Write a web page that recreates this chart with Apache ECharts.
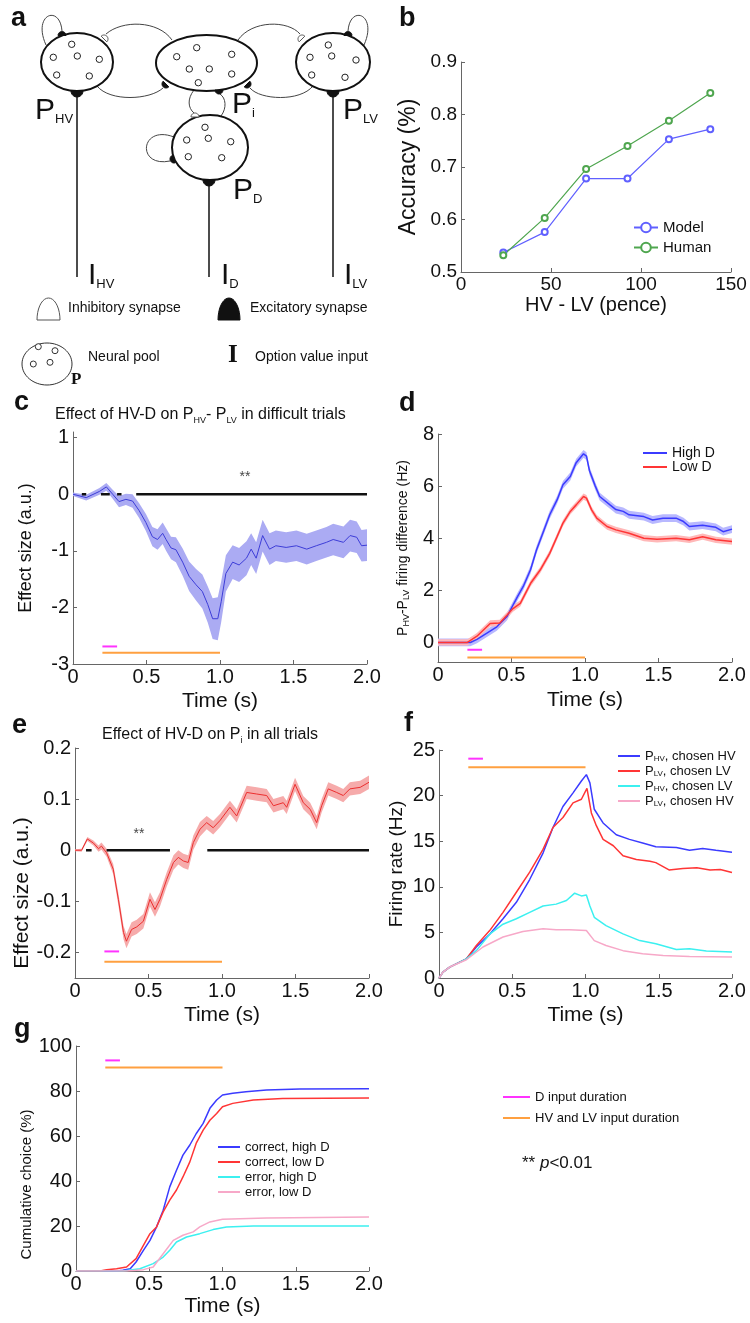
<!DOCTYPE html>
<html>
<head>
<meta charset="utf-8">
<script src="https://cdn.jsdelivr.net/npm/echarts@6.0.0/dist/echarts.min.js"></script>
<style>
html, body { margin: 0; padding: 0; background: #fff; }
#main { width: 750px; height: 1323px; }
</style>
</head>
<body>
<div id="main"></div>
<script>
var FONT = 'Liberation Sans, Arial, Helvetica, sans-serif';
var SERIF = 'Liberation Serif, DejaVu Serif, serif';

// b: accuracy against value difference
var bDiff = [23.5, 46.5, 69.5, 92.5, 115.5, 138.5];
var bModel = [0.537, 0.576, 0.678, 0.678, 0.753, 0.772];
var bHuman = [0.532, 0.603, 0.696, 0.740, 0.788, 0.841];

// input windows (s)
var dInput = [0.2, 0.3];
var hvlvInput = [0.2, 1.0];

// c: effect of HV-D on PHV-PLV, difficult trials
var cTime = [0, 0.09, 0.18, 0.227, 0.27, 0.313, 0.36, 0.405, 0.45, 0.496, 0.54, 0.575, 0.61, 0.633, 0.667, 0.7, 0.746, 0.79, 0.837, 0.88,
  0.917, 0.95, 0.985, 1.008, 1.04, 1.086, 1.13, 1.18, 1.212, 1.246, 1.29, 1.337, 1.38, 1.45, 1.52, 1.59, 1.655, 1.724, 1.77, 1.84,
  1.885, 1.93, 1.963, 2.0];
var cEffect = [0, -0.06, 0.05, 0.13, 0, -0.13, -0.09, -0.12, -0.29, -0.5, -0.75, -0.8, -0.69, -0.8, -0.95, -0.98, -1.2, -1.45, -1.6, -1.72,
  -1.95, -2.2, -2.2, -1.9, -1.4, -1.2, -1.25, -1.13, -0.97, -1.13, -0.73, -0.97, -0.91, -0.94, -0.91, -0.97, -0.91, -0.85, -0.8, -0.85,
  -0.73, -0.76, -0.91, -0.9];
var cSem = [0.03, 0.05, 0.06, 0.07, 0.08, 0.1, 0.1, 0.12, 0.13, 0.15, 0.17, 0.18, 0.19, 0.2, 0.2, 0.22, 0.24, 0.26, 0.28, 0.3,
  0.32, 0.36, 0.38, 0.36, 0.32, 0.3, 0.3, 0.3, 0.28, 0.28, 0.28, 0.28, 0.27, 0.27, 0.27, 0.27, 0.27, 0.27, 0.28, 0.28,
  0.28, 0.28, 0.28, 0.28];
var cSig = [[0.06, 0.09], [0.19, 0.25], [0.30, 0.33], [0.43, 2.0]];
var cStar = [1.17, 0.3];
var cInputY = [-2.69, -2.8];
var cTicks = [-3, -2, -1, 0, 1];

// d: PHV-PLV firing difference
var dHighTime = [0, 0.13, 0.22, 0.265, 0.33, 0.4, 0.47, 0.54, 0.58, 0.63, 0.67, 0.72, 0.76, 0.81, 0.85, 0.9, 0.94, 0.99, 1.01, 1.03,
  1.07, 1.1, 1.17, 1.21, 1.26, 1.3, 1.4, 1.46, 1.53, 1.62, 1.67, 1.71, 1.8, 1.89, 1.94, 2.0];
var dHigh = [0, 0, 0, 0.12, 0.35, 0.6, 1.0, 1.75, 2.15, 2.8, 3.55, 4.3, 4.9, 5.47, 6.05, 6.37, 6.9, 7.24, 7.15, 6.6,
  6.0, 5.6, 5.28, 5.1, 5.03, 4.9, 4.83, 4.7, 4.77, 4.77, 4.64, 4.45, 4.5, 4.42, 4.25, 4.35];
var dLowTime = [0, 0.2, 0.265, 0.355, 0.42, 0.47, 0.51, 0.56, 0.63, 0.695, 0.76, 0.81, 0.85, 0.9, 0.94, 0.99, 1.01, 1.045, 1.08, 1.15,
  1.21, 1.3, 1.4, 1.49, 1.62, 1.71, 1.8, 1.89, 2.0];
var dLow = [0, 0, 0.24, 0.73, 0.75, 1.05, 1.3, 1.5, 2.27, 2.78, 3.42, 4.06, 4.58, 5.03, 5.28, 5.6, 5.54, 5.09, 4.77, 4.45,
  4.32, 4.19, 4.0, 3.96, 4.0, 3.94, 4.06, 3.94, 3.87];
var dHighSem = 0.15;
var dLowSem = 0.12;
var dInputY = [-0.28, -0.58];
var dTicks = [0, 2, 4, 6, 8];

// e: effect of HV-D on Pi, all trials
var eTime = [0, 0.045, 0.084, 0.125, 0.16, 0.18, 0.215, 0.26, 0.295, 0.33, 0.35, 0.385, 0.42, 0.465, 0.51, 0.544, 0.578, 0.624, 0.67, 0.703,
  0.737, 0.77, 0.805, 0.85, 0.896, 0.94, 0.986, 1.054, 1.1, 1.168, 1.236, 1.304, 1.35, 1.417, 1.44, 1.497, 1.553, 1.6, 1.644, 1.678,
  1.723, 1.78, 1.825, 1.87, 1.94, 2.0];
var eEffect = [0, 0, 0.022, 0.014, 0.003, 0.008, -0.005, -0.037, -0.096, -0.161, -0.178, -0.155, -0.15, -0.139, -0.096, -0.116, -0.096, -0.057, -0.024, -0.014,
  -0.021, -0.024, 0.015, 0.041, 0.054, 0.044, 0.058, 0.084, 0.067, 0.113, 0.11, 0.107, 0.087, 0.093, 0.084, 0.129, 0.093, 0.08, 0.054, 0.087,
  0.12, 0.113, 0.107, 0.12, 0.123, 0.133];
var eSem = [0.002, 0.003, 0.004, 0.005, 0.006, 0.007, 0.008, 0.01, 0.012, 0.013, 0.014, 0.014, 0.014, 0.014, 0.014, 0.014, 0.014, 0.014, 0.014, 0.014,
  0.014, 0.014, 0.014, 0.014, 0.013, 0.013, 0.013, 0.013, 0.013, 0.013, 0.013, 0.013, 0.013, 0.013, 0.013, 0.013, 0.013, 0.013, 0.013, 0.013,
  0.013, 0.013, 0.013, 0.013, 0.013, 0.013];
var eSig = [[0.075, 0.113], [0.215, 0.646], [0.9, 2.0]];
var eStar = [0.435, 0.031];
var eInputY = [-0.198, -0.218];
var eTicks = [-0.2, -0.1, 0, 0.1, 0.2];

// f: firing rates
var fHvHvTime = [0, 0.027, 0.073, 0.187, 0.255, 0.346, 0.437, 0.528, 0.619, 0.71, 0.778, 0.846, 0.915, 0.972, 1.006, 1.03, 1.06, 1.12, 1.21, 1.3,
  1.39, 1.48, 1.62, 1.71, 1.8, 1.89, 2.0];
var fHvHv = [0, 0.65, 1.2, 2.1, 3.4, 4.8, 6.5, 8.3, 10.8, 13.7, 16.5, 18.8, 20.3, 21.6, 22.3, 21.4, 18.5, 17.0, 15.7, 15.2,
  14.8, 14.4, 14.3, 14.0, 14.2, 14.0, 13.8];
var fLvLvTime = [0, 0.027, 0.073, 0.187, 0.255, 0.346, 0.437, 0.528, 0.619, 0.71, 0.778, 0.846, 0.915, 0.972, 1.01, 1.04, 1.074, 1.12, 1.19, 1.256,
  1.347, 1.44, 1.48, 1.57, 1.665, 1.76, 1.85, 1.92, 2.0];
var fLvLv = [0, 0.65, 1.2, 2.1, 3.56, 5.2, 7.2, 9.4, 11.6, 14.1, 16.5, 17.6, 19.2, 19.6, 20.8, 18.1, 16.7, 15.2, 14.5, 13.4,
  13.0, 12.8, 12.65, 11.85, 12.0, 12.1, 11.85, 11.9, 11.56];
var fHvLvTime = [0, 0.027, 0.073, 0.187, 0.255, 0.346, 0.437, 0.528, 0.619, 0.71, 0.8, 0.87, 0.926, 0.972, 1.006, 1.03, 1.06, 1.14, 1.256, 1.37,
  1.48, 1.62, 1.71, 1.825, 2.0];
var fHvLv = [0, 0.65, 1.2, 2.1, 3.0, 4.8, 5.9, 6.5, 7.2, 7.9, 8.1, 8.5, 9.3, 9.0, 9.1, 7.9, 6.65, 5.75, 4.84, 4.1,
  3.75, 3.13, 3.2, 2.95, 2.84];
var fLvHvTime = [0, 0.027, 0.073, 0.187, 0.3, 0.437, 0.573, 0.71, 0.8, 0.89, 1.006, 1.06, 1.14, 1.256, 1.39, 1.53, 1.71, 2.0];
var fLvHv = [0, 0.65, 1.2, 2.0, 3.4, 4.5, 5.1, 5.4, 5.3, 5.3, 5.2, 4.1, 3.56, 3.0, 2.65, 2.47, 2.36, 2.3];
var fInputY = [24.05, 23.1];

// g: cumulative choice
var gCorHighTime = [0, 0.277, 0.32, 0.37, 0.41, 0.46, 0.505, 0.55, 0.595, 0.64, 0.686, 0.73, 0.777, 0.82, 0.868, 0.914, 0.96, 1.0, 1.07, 1.16, 1.3, 1.527, 2.0];
var gCorHigh = [0, 0, 0.3, 1, 4, 9.2, 13.6, 19.6, 27, 37.4, 44.8, 51.5, 56, 61, 65.6, 72.3, 76, 78.2, 79, 79.7, 80.4, 80.9, 81];
var gCorLowTime = [0, 0.164, 0.21, 0.277, 0.345, 0.41, 0.46, 0.505, 0.55, 0.595, 0.64, 0.686, 0.73, 0.777, 0.82, 0.868, 0.914, 0.96, 1.0, 1.07, 1.21, 1.41, 2.0];
var gCorLow = [0, 0, 0.6, 1, 1.8, 5.5, 11.4, 16.6, 19.6, 26.3, 31.5, 36, 41.8, 48.5, 56.7, 62.6, 67, 70, 73, 74.5, 76, 76.7, 76.9];
var gErrHighTime = [0, 0.32, 0.436, 0.527, 0.595, 0.64, 0.686, 0.755, 0.845, 0.936, 1.027, 1.21, 2.0];
var gErrHigh = [0, 0, 1, 3.3, 6.2, 9.2, 12.9, 15.1, 16.6, 18.4, 19.6, 20, 20];
var gErrLowTime = [0, 0.345, 0.46, 0.527, 0.595, 0.664, 0.73, 0.8, 0.845, 0.914, 1.0, 1.3, 2.0];
var gErrLow = [0, 0, 0.6, 1.8, 7.7, 13.6, 15.9, 17.4, 19.6, 21.8, 23, 23.6, 24];
var gInputY = [93.6, 90.5];

var BLUE = '#3b3bff', RED = '#ff3535', CYAN = '#3cf0f0', PINK = '#f7a8c8';
var MAGENTA = '#ff33ff', ORANGE = '#ffa040';
var AX = '#666', INK = '#111';

function pairs(xs, ys) {
  return xs.map(function (x, i) { return [x, ys[i]]; });
}

function line(name, xs, ys, gi, color, width, extra) {
  return Object.assign({
    name: name, type: 'line', xAxisIndex: gi, yAxisIndex: gi,
    data: pairs(xs, ys), symbol: 'none', silent: true,
    lineStyle: { color: color, width: width }, itemStyle: { color: color }, z: 3
  }, extra || {});
}

// shaded error band: one polygon through the upper edge and back along the lower edge
function band(xs, mid, sem, gi, color) {
  var data = xs.map(function (x, i) {
    var s = Array.isArray(sem) ? sem[i] : sem;
    return [x, mid[i] - s, mid[i] + s];
  });
  return {
    type: 'custom', xAxisIndex: gi, yAxisIndex: gi, data: data, silent: true, z: 1,
    encode: { x: 0, y: [1, 2] },
    renderItem: function (params, api) {
      if (params.dataIndex !== 0) return null;
      var top = [], bottom = [];
      for (var i = 0; i < data.length; i++) {
        top.push(api.coord([api.value(0, i), api.value(2, i)]));
        bottom.unshift(api.coord([api.value(0, i), api.value(1, i)]));
      }
      return { type: 'polygon', shape: { points: top.concat(bottom) }, style: { fill: color } };
    }
  };
}

var series = [];

function inputs(gi, ys) {
  series.push(line('D input duration', dInput, [ys[0], ys[0]], gi, MAGENTA, 2));
  series.push(line('HV and LV input duration', hvlvInput, [ys[1], ys[1]], gi, ORANGE, 2));
}

function sig(gi, ranges) {
  ranges.forEach(function (r) {
    series.push(line('sig', r, [0, 0], gi, INK, 2.5, { z: 4 }));
  });
}

function star(gi, p) {
  series.push({
    type: 'scatter', xAxisIndex: gi, yAxisIndex: gi, data: [p], symbolSize: 0, silent: true,
    label: { show: true, position: 'inside', formatter: '**', fontSize: 14, color: INK, fontFamily: FONT }
  });
}

// b
series.push(line('Model', bDiff, bModel, 0, '#6060ff', 1.2, { symbol: 'emptyCircle', symbolSize: 6 }));
series.push(line('Human', bDiff, bHuman, 0, '#4fa64f', 1.2, { symbol: 'emptyCircle', symbolSize: 6 }));

// c
series.push(band(cTime, cEffect, cSem, 1, '#ababf3'));
series.push(line('c effect', cTime, cEffect, 1, '#3d3dd8', 1));
sig(1, cSig);
star(1, cStar);
inputs(1, cInputY);

// d
series.push(band(dHighTime, dHigh, dHighSem, 2, '#b8b8ff'));
series.push(band(dLowTime, dLow, dLowSem, 2, '#ffb8b8'));
series.push(line('High D', dHighTime, dHigh, 2, BLUE, 1.5));
series.push(line('Low D', dLowTime, dLow, 2, RED, 1.5));
inputs(2, dInputY);

// e
series.push(band(eTime, eEffect, eSem, 3, '#f6abab'));
series.push(line('e effect', eTime, eEffect, 3, '#ec2f2f', 1));
sig(3, eSig);
star(3, eStar);
inputs(3, eInputY);

// f
series.push(line('P_HV, chosen HV', fHvHvTime, fHvHv, 4, BLUE, 1.5));
series.push(line('P_LV, chosen LV', fLvLvTime, fLvLv, 4, RED, 1.5));
series.push(line('P_HV, chosen LV', fHvLvTime, fHvLv, 4, CYAN, 1.5));
series.push(line('P_LV, chosen HV', fLvHvTime, fLvHv, 4, PINK, 1.5));
inputs(4, fInputY);

// g
series.push(line('correct, high D', gCorHighTime, gCorHigh, 5, BLUE, 1.5));
series.push(line('correct, low D', gCorLowTime, gCorLow, 5, RED, 1.5));
series.push(line('error, high D', gErrHighTime, gErrHigh, 5, CYAN, 1.5));
series.push(line('error, low D', gErrLowTime, gErrLow, 5, PINK, 1.5));
inputs(5, gInputY);

var grids = [
  { left: 461, top: 62, width: 270, height: 210 },   // b
  { left: 73, top: 432, width: 294, height: 232 },   // c
  { left: 438, top: 434, width: 294, height: 228 },  // d
  { left: 75, top: 748, width: 294, height: 230 },   // e
  { left: 439, top: 750, width: 293, height: 228 },  // f
  { left: 76, top: 1046, width: 293, height: 225 }   // g
].map(function (g) { return Object.assign({ outerBoundsMode: 'none', containLabel: false }, g); });

function baseAxis(gi, extra) {
  return Object.assign({
    type: 'value', gridIndex: gi, nameLocation: 'middle',
    axisLine: { show: true, onZero: false, lineStyle: { color: AX, width: 1 } },
    axisTick: { show: true, inside: true, length: 4, lineStyle: { color: AX } },
    axisLabel: { fontSize: 20, color: INK, fontFamily: FONT, margin: 4 },
    splitLine: { show: false },
    nameTextStyle: { fontSize: 21, color: INK, fontFamily: FONT }
  }, extra);
}

function timeAxis(gi, gap) {
  return baseAxis(gi, {
    min: 0, max: 2, interval: 0.5, name: 'Time (s)', nameGap: gap,
    axisLabel: { fontSize: 20, color: INK, fontFamily: FONT, margin: 3,
      formatter: function (v) { return v === 0 ? '0' : v.toFixed(1); } }
  });
}

function customY(gi, min, max, ticks, fmt, extra) {
  return baseAxis(gi, Object.assign({
    min: min, max: max,
    axisTick: { show: true, inside: true, length: 4, lineStyle: { color: AX }, customValues: ticks },
    axisLabel: { fontSize: 20, color: INK, fontFamily: FONT, margin: 4, customValues: ticks, formatter: fmt }
  }, extra));
}

var subRich = {
  m: { fontSize: 14, lineHeight: 16, fontFamily: FONT, color: INK },
  s: { fontSize: 9, lineHeight: 8, verticalAlign: 'bottom', fontFamily: FONT, color: INK }
};

var xAxes = [
  baseAxis(0, { min: 0, max: 150, interval: 50, name: 'HV - LV (pence)', nameGap: 23,
    nameTextStyle: { fontSize: 20, color: INK, fontFamily: FONT },
    axisLabel: { fontSize: 19, color: INK, fontFamily: FONT, margin: 3 } }),
  timeAxis(1, 27), timeAxis(2, 28), timeAxis(3, 27), timeAxis(4, 27), timeAxis(5, 25)
];

var yAxes = [
  baseAxis(0, { min: 0.5, max: 0.9, interval: 0.1, name: 'Accuracy (%)', nameGap: 41,
    nameTextStyle: { fontSize: 23, color: INK, fontFamily: FONT },
    axisLabel: { fontSize: 19, color: INK, fontFamily: FONT, margin: 4,
      formatter: function (v) { return v.toFixed(1); } } }),
  customY(1, -3, 1.1, cTicks, function (v) { return String(v); },
    { name: 'Effect size (a.u.)', nameGap: 38, nameTextStyle: { fontSize: 18, color: INK, fontFamily: FONT } }),
  customY(2, -0.75, 8, dTicks, function (v) { return String(v); },
    { name: '{m|P}{s|HV}{m|-P}{s|LV}{m| firing difference (Hz)}', nameGap: 27,
      nameTextStyle: { fontSize: 14, color: INK, fontFamily: FONT, rich: subRich } }),
  customY(3, -0.25, 0.2, eTicks, function (v) { return v === 0 ? '0' : v.toFixed(1); },
    { name: 'Effect size (a.u.)', nameGap: 40,
      nameTextStyle: { fontSize: 21, color: INK, fontFamily: FONT, padding: [0, 60, 0, 0] } }),
  baseAxis(4, { min: 0, max: 25, interval: 5, name: 'Firing rate (Hz)', nameGap: 33,
    nameTextStyle: { fontSize: 19, color: INK, fontFamily: FONT } }),
  baseAxis(5, { min: 0, max: 100, interval: 20, name: 'Cumulative choice (%)', nameGap: 38,
    nameTextStyle: { fontSize: 15, color: INK, fontFamily: FONT, padding: [0, 52, 0, 0] } })
];

function legend(names, left, top, itemWidth, gap, size, extra) {
  return Object.assign({
    data: names, left: left, top: top, orient: 'vertical', padding: 0,
    icon: 'rect', itemWidth: itemWidth, itemHeight: 2, itemGap: gap, selectedMode: false,
    textStyle: { fontSize: size, lineHeight: 14, color: INK, fontFamily: FONT }
  }, extra || {});
}

var legendRich = {
  m: { fontSize: 13, lineHeight: 14, fontFamily: FONT, color: INK },
  s: { fontSize: 8, lineHeight: 7, verticalAlign: 'bottom', fontFamily: FONT, color: INK }
};

var legends = [
  legend(['Model', 'Human'], 633, 220, 24, 5, 15, { icon: null, itemHeight: 12 }),
  legend(['High D', 'Low D'], 643, 446, 24, 0, 14),
  legend(['P_HV, chosen HV', 'P_LV, chosen LV', 'P_HV, chosen LV', 'P_LV, chosen HV'], 618, 749, 22, 1, 13, {
    formatter: function (n) { return n.replace(/^P_(\w+),(.*)$/, '{m|P}{s|$1}{m|,$2}'); },
    textStyle: { fontSize: 13, lineHeight: 14, color: INK, fontFamily: FONT, rich: legendRich }
  }),
  legend(['correct, high D', 'correct, low D', 'error, high D', 'error, low D'], 218, 1140, 22, 1, 13),
  legend(['D input duration', 'HV and LV input duration'], 503, 1090, 27, 7, 13)
];
delete legends[0].icon;

// ---- panel a diagram and free text
var G = [];
function txt(x, y, text, size, style) {
  G.push({ type: 'text', x: x, y: y, silent: true,
    style: Object.assign({ text: text, fontSize: size, fontFamily: FONT, fill: INK,
      align: 'left', verticalAlign: 'middle', textAlign: 'left', textVerticalAlign: 'middle' }, style || {}) });
}
function ell(cx, cy, rx, ry, w) {
  G.push({ type: 'ellipse', shape: { cx: cx, cy: cy, rx: rx, ry: ry }, silent: true,
    style: { fill: '#fff', stroke: INK, lineWidth: w } });
}
function dot(cx, cy) {
  G.push({ type: 'circle', shape: { cx: cx, cy: cy, r: 3.2 }, silent: true, z: 2,
    style: { fill: '#fff', stroke: '#222', lineWidth: 1 } });
}
function seg(x1, y1, x2, y2, w) {
  G.push({ type: 'line', shape: { x1: x1, y1: y1, x2: x2, y2: y2 }, silent: true,
    style: { stroke: INK, lineWidth: w } });
}
function curve(x1, y1, c1x, c1y, c2x, c2y, x2, y2) {
  G.push({ type: 'bezierCurve', silent: true,
    shape: { x1: x1, y1: y1, cpx1: c1x, cpy1: c1y, cpx2: c2x, cpy2: c2y, x2: x2, y2: y2 },
    style: { stroke: '#444', lineWidth: 1, fill: null } });
}
// synapse: half-ellipse dome pointing towards dir (degrees, screen coords)
function dome(cx, cy, rx, ry, dir, filled) {
  var a = dir * Math.PI / 180, dx = Math.cos(a), dy = Math.sin(a), pts = [];
  for (var t = -90; t <= 90; t += 10) {
    var r = t * Math.PI / 180, u = ry * Math.cos(r), v = rx * Math.sin(r);
    pts.push([cx + u * dx - v * dy, cy + u * dy + v * dx]);
  }
  G.push({ type: 'polygon', shape: { points: pts }, silent: true, z: 3,
    style: { fill: filled ? INK : '#fff', stroke: filled ? INK : '#555', lineWidth: 1 } });
}

var pRich = {
  p: { fontSize: 30, lineHeight: 30, fontFamily: FONT, color: INK },
  s: { fontSize: 13, lineHeight: 12, verticalAlign: 'bottom', fontFamily: FONT, color: INK }
};

// connections
curve(46, 45, 32, 14, 60, 4, 62, 31);          // HV self loop
curve(364, 45, 378, 14, 350, 4, 348, 31);      // LV self loop
curve(172, 40, 158, 20, 122, 20, 106, 34);     // Pi -> HV (inhibitory)
curve(238, 40, 252, 20, 288, 20, 300, 34);     // Pi -> LV (inhibitory)
curve(97, 86, 110, 102, 150, 100, 163, 88);    // HV -> Pi
curve(313, 86, 300, 102, 260, 100, 250, 88);   // LV -> Pi
curve(194, 90, 187, 99, 188, 108, 194, 113);   // Pi -> D (inhibitory)
curve(221, 116, 227, 108, 226, 98, 220, 94);   // D -> Pi
curve(174, 137, 140, 124, 136, 168, 170, 161); // D self loop

// input lines
seg(77, 96, 77, 277, 1.5);
seg(209, 185, 209, 277, 1.5);
seg(333, 96, 333, 277, 1.5);

// pools
ell(77, 62, 36, 29, 2);
ell(206.5, 63, 50.5, 28, 2);
ell(333, 62, 37, 29, 2);
ell(210, 147.5, 38, 32.5, 2);
[[71.7, 44.3], [53.3, 57.3], [77.3, 56], [99.3, 59.3], [56.7, 75], [89.3, 76],
 [196.7, 47.7], [176.7, 56.7], [231.7, 54.3], [189.3, 69], [209.3, 69], [231.7, 74], [198.3, 82.7],
 [328.3, 45], [310, 57.3], [331.7, 56], [356, 60], [311.7, 75], [345, 77.3],
 [205, 127.3], [186.7, 140], [208.3, 138.3], [230.7, 141.7], [188.3, 156.7], [221.7, 157.7]
].forEach(function (p) { dot(p[0], p[1]); });

// synapses
dome(77, 91, 6, 6, 90, true);
dome(333, 91, 6, 6, 90, true);
dome(209, 180, 6, 6, 90, true);
dome(62, 35.5, 4, 4, -90, true);
dome(348, 35.5, 4, 4, -90, true);
dome(104, 39, 4, 4, -45, false);
dome(302, 39, 4, 4, -135, false);
dome(166, 84, 4, 4, 135, true);
dome(247, 84, 4, 4, 45, true);
dome(195, 117, 4, 4, -90, false);
dome(219, 90, 4, 4, 90, true);
dome(174, 159, 4, 4, 160, true);

// pool / input labels
txt(35, 111, '{p|P}{s|HV}', 30, { rich: pRich });
txt(232, 105, '{p|P}{s|i}', 30, { rich: pRich });
txt(343, 111, '{p|P}{s|LV}', 30, { rich: pRich });
txt(233, 191, '{p|P}{s|D}', 30, { rich: pRich });
txt(88, 276, '{p|I}{s|HV}', 30, { rich: pRich });
txt(221, 276, '{p|I}{s|D}', 30, { rich: pRich });
txt(344, 276, '{p|I}{s|LV}', 30, { rich: pRich });

// panel a key
dome(48.5, 320, 11.5, 22, -90, false);
txt(68, 308, 'Inhibitory synapse', 14);
dome(229, 320, 11, 22, -90, true);
txt(250, 308, 'Excitatory synapse', 14);
G.push({ type: 'ellipse', shape: { cx: 47, cy: 364, rx: 25, ry: 21 }, silent: true,
  style: { fill: '#fff', stroke: '#333', lineWidth: 1 } });
[[38.3, 346.7], [55, 350.7], [33.3, 364], [50, 362.3]].forEach(function (p) {
  G.push({ type: 'circle', shape: { cx: p[0], cy: p[1], r: 3 }, silent: true,
    style: { fill: '#fff', stroke: '#333', lineWidth: 1 } });
});
txt(71, 380, 'P', 17, { fontFamily: SERIF, fontWeight: 'bold' });
txt(88, 357, 'Neural pool', 14);
txt(228, 356, 'I', 25, { fontFamily: SERIF, fontWeight: 'bold' });
txt(255, 357, 'Option value input', 14);

// panel letters
var letters = [['a', 11, 19], ['b', 399, 19], ['c', 14, 403], ['d', 399, 404], ['e', 12, 726], ['f', 404, 724], ['g', 14, 1030]];
letters.forEach(function (l) { txt(l[1], l[2], l[0], 27, { fontWeight: 'bold' }); });

// panel titles
var titleRich = {
  t: { fontSize: 16, lineHeight: 20, fontFamily: FONT, color: INK },
  s: { fontSize: 9, lineHeight: 8, verticalAlign: 'bottom', fontFamily: FONT, color: INK }
};
txt(55, 415, '{t|Effect of HV-D on P}{s|HV}{t|- P}{s|LV}{t| in difficult trials}', 16, { rich: titleRich });
txt(102, 735, '{t|Effect of HV-D on P}{s|i}{t| in all trials}', 16, { rich: titleRich });

txt(522, 1163, '{n|** }{i|p}{n|<0.01}', 17, { rich: {
  n: { fontSize: 17, fontFamily: FONT, color: INK },
  i: { fontSize: 17, fontFamily: FONT, fontStyle: 'italic', color: INK }
} });

var chart = echarts.init(document.getElementById('main'), null, { renderer: 'canvas', width: 750, height: 1323 });
chart.setOption({
  animation: false,
  backgroundColor: '#fff',
  textStyle: { fontFamily: FONT },
  grid: grids,
  xAxis: xAxes,
  yAxis: yAxes,
  legend: legends,
  series: series,
  graphic: { elements: G }
});
</script>
</body>
</html>
